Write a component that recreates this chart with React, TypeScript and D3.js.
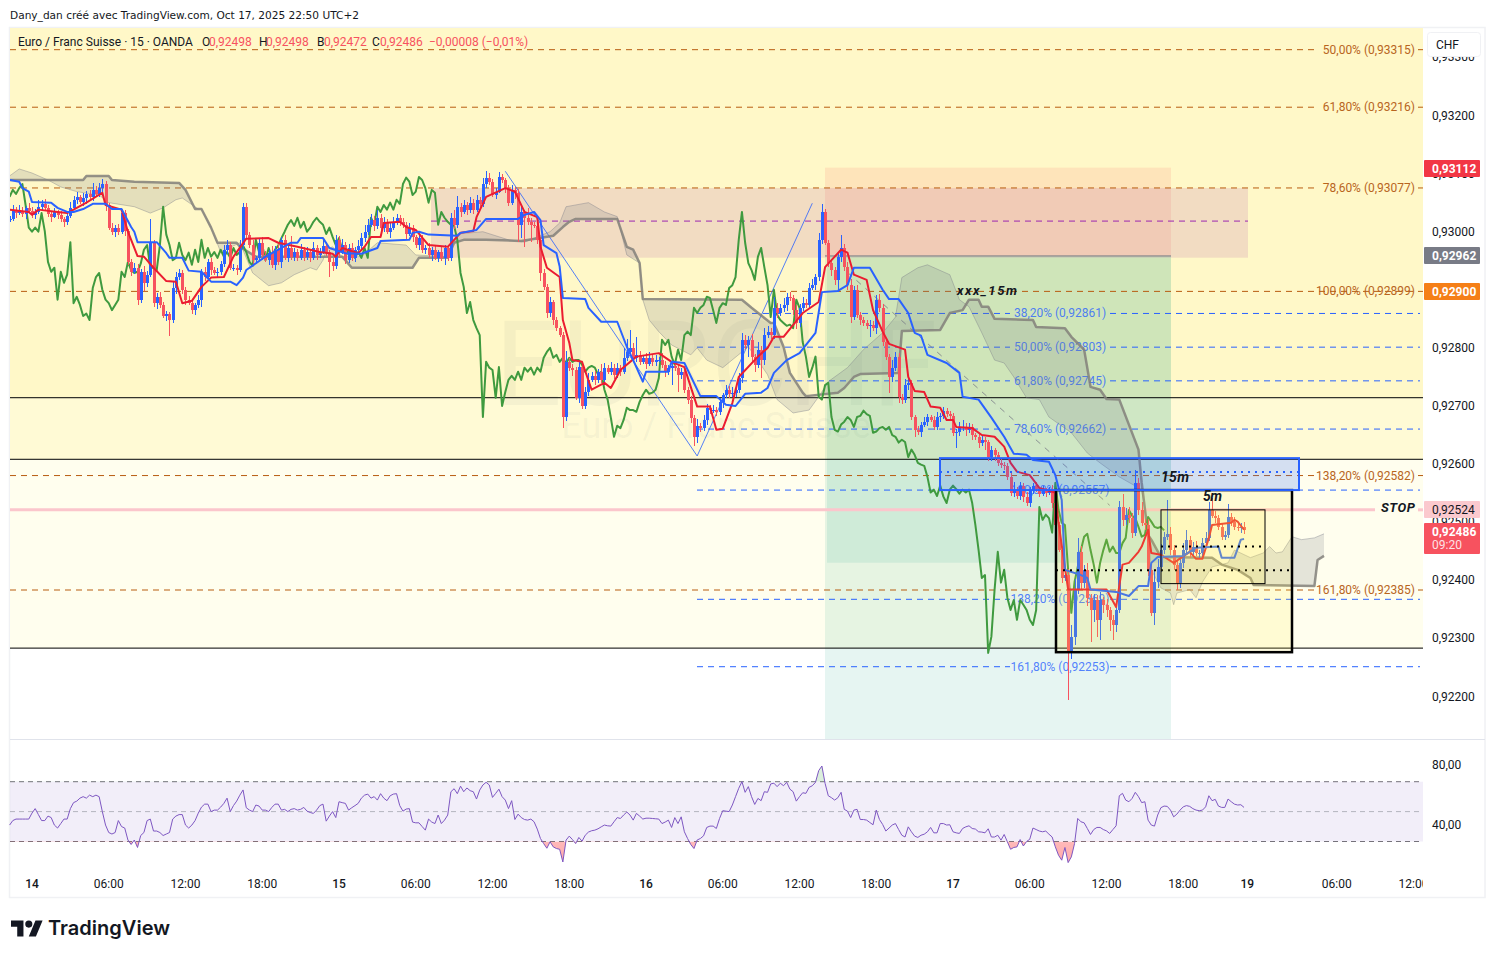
import React from "react";
import * as d3 from "d3";

// ---- prices are in points (1 point = 0.00001 CHF) ----
const closes = [
93022,93038,93032,93036,93031,93041,93036,93029,93034,93043,
93048,93041,93031,93026,93034,93029,93022,93017,93027,93041,
93055,93060,93051,93058,93065,93060,93072,93065,93075,93082,
93046,93007,93000,93007,93000,93032,93001,92948,92931,92938,
92883,92931,92912,92926,92982,92877,92888,92874,92855,92859,
92848,92903,92922,92929,92900,92883,92877,92865,92874,92883,
92931,92922,92948,92934,92929,92931,92945,92969,92977,92938,
92938,92934,92977,93043,92995,92977,92951,92955,92981,92960,
92951,92964,92943,92969,92948,92986,92955,92972,92957,92965,
92955,92969,92957,92965,92955,92972,92960,92965,92976,92965,
92948,92941,92986,92965,92977,92951,92972,92955,92969,92976,
92989,93000,93012,93020,93010,93024,93007,93017,93000,93007,
93017,93024,93017,93012,92996,93007,92991,92977,92989,92969,
92972,92960,92969,92955,92965,92955,92972,92955,93024,93012,
93043,93034,93046,93038,93050,93038,93055,93048,93082,93093,
93086,93063,93069,93094,93089,93075,93050,93072,93067,93012,
93034,93024,93017,93012,93010,92986,92929,92905,92860,92879,
92848,92834,92822,92681,92776,92766,92762,92714,92767,92700,
92724,92745,92752,92745,92759,92745,92766,92759,92766,92754,
92766,92759,92783,92793,92800,92783,92788,92776,92783,92773,
92783,92776,92779,92779,92771,92759,92766,92769,92766,92754,
92759,92728,92711,92680,92647,92666,92662,92676,92697,92693,
92693,92690,92707,92719,92728,92721,92723,92728,92748,92814,
92805,92814,92785,92771,92797,92779,92822,92828,92822,92869,
92860,92869,92874,92888,92886,92865,92843,92869,92877,92874,
92903,92908,92922,92986,93034,92981,92946,92934,92917,92957,
92972,92939,92908,92853,92900,92857,92848,92843,92838,92840,
92834,92883,92869,92810,92785,92750,92766,92785,92716,92711,
92736,92740,92681,92659,92656,92668,92673,92681,92676,92664,
92681,92683,92692,92686,92683,92654,92656,92662,92664,92659,
92664,92650,92647,92637,92642,92638,92612,92625,92616,92602,
92599,92597,92578,92551,92556,92545,92563,92544,92533,92556,
92563,92557,92549,92556,92551,92556,92533,92495,92452,92404,
92409,92275,92303,92384,92449,92396,92418,92370,92349,92366,
92332,92366,92358,92349,92332,92323,92349,92526,92504,92513,
92507,92482,92568,92521,92499,92495,92418,92344,92397,92423,
92452,92475,92480,92452,92427,92396,92430,92452,92470,92449,
92458,92447,92447,92464,92473,92521,92511,92507,92492,92475,
92478,92509,92501,92492,92490,92492,92486];

const upperWicks = [
5,8,4,10,6,3,9,7,5,12,6,8,5,3,7,4,6,3,8,10,
6,9,4,8,5,7,12,6,9,8,6,4,8,5,7,4,6,3,5,8,
6,5,10,6,40,4,6,8,5,4,3,10,8,6,5,4,7,6,4,8,
4,8,5,7,5,6,4,8,9,5,6,5,8,7,6,5,8,4,6,10,
7,5,12,6,9,5,8,6,20,7,6,9,5,8,6,10,5,7,9,6,
4,7,8,6,10,5,7,8,5,9,8,12,9,10,7,14,6,8,5,10,
9,7,5,6,4,8,5,4,7,6,5,8,4,6,3,10,5,4,8,14,
18,6,9,5,10,6,8,5,10,12,8,5,6,9,5,4,6,8,5,6,
8,4,16,6,5,3,4,6,5,8,4,6,3,5,18,7,6,5,10,4,
8,12,6,9,5,14,8,5,10,6,8,5,16,22,30,8,30,7,5,8,
10,6,8,5,12,6,4,9,7,5,6,8,4,6,5,12,4,8,6,5,
8,5,6,4,8,6,10,5,8,12,8,6,10,5,14,6,12,10,6,18,
8,6,12,6,9,5,8,6,10,8,8,10,6,12,14,5,4,6,5,8,
22,6,8,10,6,8,4,6,5,8,6,8,9,6,5,4,14,8,6,4,
10,6,5,4,6,4,8,5,4,6,8,5,7,4,6,5,4,10,12,6,
6,5,4,6,8,5,4,6,3,5,8,4,5,6,14,5,6,4,8,5,
5,6,4,6,3,5,8,6,5,4,6,10,20,18,24,10,8,12,6,10,
8,14,6,10,5,8,6,10,22,12,14,8,22,8,14,6,10,8,20,14,
10,8,58,12,8,6,10,12,16,6,8,10,6,8,10,14,21,8,6,5,
6,22,6,8,5,6,8];

const lowerWicks = [
5,3,8,4,6,10,4,5,7,3,8,4,6,10,3,8,5,9,6,4,
4,7,3,6,10,4,7,3,5,8,10,4,5,9,6,4,8,5,8,4,
10,6,14,8,4,6,10,5,4,8,27,6,10,5,7,10,4,6,8,5,
12,6,5,9,4,7,5,6,8,4,5,8,4,6,8,5,10,6,4,8,
4,8,5,9,6,10,4,7,5,8,6,4,8,5,7,4,9,5,4,6,
26,8,5,10,4,7,5,6,8,4,5,7,6,4,9,5,6,8,4,10,
4,6,8,5,9,4,8,5,9,6,7,5,10,4,8,6,12,5,6,8,
5,8,4,9,5,7,4,8,5,6,5,4,7,3,6,8,5,4,10,30,
22,50,6,30,4,8,14,5,8,6,8,5,4,19,6,5,10,4,8,6,
5,7,4,8,6,5,7,4,6,8,5,8,4,6,7,5,8,6,4,9,
5,7,8,4,6,9,5,30,6,30,8,5,7,9,16,10,6,5,8,6,
5,8,6,10,5,7,6,8,5,8,7,20,10,12,6,30,8,5,7,6,
8,5,7,10,6,8,10,7,5,6,5,4,8,6,7,4,6,10,8,20,
10,6,8,10,5,6,8,5,6,20,5,10,8,6,6,27,8,5,10,8,
6,8,5,12,6,10,5,7,4,6,5,8,6,5,8,6,27,8,5,10,
6,8,5,10,6,14,7,6,10,5,6,8,5,6,8,5,7,10,5,6,
8,5,6,4,7,5,8,6,4,8,6,81,10,15,8,12,10,14,55,20,
30,35,14,12,20,25,12,6,10,8,8,10,5,8,6,8,10,6,21,10,
8,6,5,8,10,12,10,8,6,10,8,5,10,7,5,6,4,8,5,6,
6,5,8,6,5,8,6];

const rsiValues = [
41,44,45,45,45,45,45,49,52,48,44,44,47,46,41,39,42,45,45,52,
56,57,59,60,59,61,60,61,60,50,41,36,35,36,44,40,39,31,28,31,
26,34,36,44,45,37,37,36,34,35,36,45,47,48,48,41,39,41,44,49,
53,55,55,50,51,51,53,55.5,59,50,54,57,61,64.5,52.6,51,50,54.4,53.7,51,
51,50,52.8,55,55,51,51.5,50,51.5,52,51,51.5,52.8,50.3,49.4,48.8,51,54,55,43.6,
47,50,46,56.6,56,55.5,51,52.6,54,55.5,59,61,61.7,59,60,57.7,62,59,57.3,60.6,
61.7,62,54,50.3,51.7,52,43,42.5,42.5,40,37.6,45,43,42,47.7,42,44.3,47.7,63.3,65.3,
62,67,63.3,65.8,64,63.3,58.4,64.4,67.8,69.6,67.8,59.5,62.2,65,60,57.7,52,57.3,44.7,48.3,
46,44.7,44.3,45,43.2,38.3,32,28.6,25.5,29.8,26.4,25.3,24.8,16.3,30.9,33.6,31.3,28.6,32.7,30.2,
34.2,36.3,37.2,37.6,38.5,39.8,41,40.5,40.3,43.2,46,45.4,47.7,49.7,47.7,44.3,48.8,47,45,45.6,
45.6,45.4,45.2,45,42,43,44.3,39.4,46,42,46.5,36.5,32,28,25.3,31,32,33.8,39.4,40.3,
40.3,38.7,45.4,50.6,50.3,50,54.4,60,65.6,70,62.9,66.7,60,54.8,58.8,57.3,63.3,62.9,68.5,69,
66.7,69,67.3,69.6,65,63.3,57,60,62.6,62.2,66.2,67.3,69.6,77.4,80.5,68.9,60.6,59.3,57.7,59.3,
62.9,51.5,50.3,46,51,51.5,44.7,44.7,44.3,42.7,41.2,51,44.7,41.4,37,39,41,42,38,34.2,
33,39.8,36.5,33.6,32.7,34.2,34.9,36.5,39.4,35.8,35.8,42,42,41,41.2,36.5,35.8,35.4,38.7,39.8,
40.5,38.7,38.3,36.5,36.3,35.8,38.5,33,33,34.2,30.9,34.7,29.8,24.8,26,26.4,31.3,27,30,31.5,
39,38,37,36.5,37,34.9,33,26.4,20.8,17.5,26,15.9,19.7,28.6,45.4,43.2,42.5,38.7,34.7,38,
39.4,39.4,38,37.1,35.4,38,40.5,60.6,62.2,57.7,56.6,58.8,62.9,60,56,56.6,44.3,41,40.3,47.7,
52.6,53.7,53.5,51,46.5,48.3,51,53.2,54,53.5,52,51,50.6,51,53.2,60.6,57.3,58.2,53.7,52.8,
52.8,58.4,56.6,55,54.4,54.6,52.8];

// [bar index, price in points]
const kijun: [number, number][] = [[0,93089],[3,93086],[4,93075],[6,93069],[7,93051],[13,93050],[15,93041],[18,93034],[20,93034],[23,93039],[26,93048],[30,93048],[32,93039],[35,93039],[38,93008],[39,93000],[40,92982],[46,92982],[49,92963],[50,92955],[54,92955],[56,92933],[60,92931],[63,92914],[69,92914],[71,92908],[73,92921],[74,92934],[80,92957],[88,92981],[90,92981],[91,92989],[98,92989],[100,92972],[105,92963],[110,92962],[115,92972],[116,92984],[125,92986],[126,92998],[128,93000],[131,92995],[140,92993],[141,92998],[146,93003],[149,93022],[159,93022],[161,93029],[164,93034],[166,93020],[167,92977],[171,92963],[172,92940],[173,92886],[180,92884],[181,92869],[185,92845],[190,92845],[193,92802],[195,92779],[198,92742],[199,92759],[206,92759],[207,92776],[211,92774],[216,92717],[221,92717],[224,92702],[227,92700],[230,92721],[235,92723],[237,92731],[239,92757],[243,92779],[247,92791],[252,92826],[254,92896],[259,92898],[262,92908],[264,92938],[269,92938],[273,92900],[275,92884],[278,92884],[281,92860],[283,92826],[285,92821],[287,92788],[293,92774],[297,92757],[298,92716],[303,92711],[307,92680],[311,92647],[314,92618],[318,92616],[320,92607],[325,92604],[327,92581],[329,92538],[330,92418],[335,92409],[337,92404],[338,92384],[346,92380],[350,92373],[353,92390],[356,92390],[357,92430],[359,92440],[367,92442],[371,92456],[378,92458],[379,92439],[383,92439],[385,92470],[386,92471]];

const tenkan: [number, number][] = [[0,93038],[6,93034],[7,93029],[9,93038],[15,93034],[18,93032],[20,93038],[24,93050],[29,93067],[30,93046],[35,93038],[37,93000],[40,92958],[42,92957],[45,92938],[49,92915],[52,92914],[54,92877],[57,92881],[60,92905],[63,92921],[67,92922],[70,92957],[74,92988],[81,92989],[84,92981],[90,92974],[97,92965],[101,92962],[102,92957],[104,92972],[109,92963],[111,92974],[113,92991],[116,92991],[117,93015],[122,93017],[124,93008],[127,93003],[131,92977],[137,92974],[139,92986],[141,92998],[145,93001],[146,93025],[149,93060],[155,93075],[158,93069],[161,93034],[165,93025],[166,92974],[168,92938],[172,92922],[173,92848],[175,92809],[176,92779],[179,92776],[182,92728],[186,92740],[188,92731],[191,92762],[196,92785],[203,92791],[207,92776],[211,92767],[215,92699],[219,92699],[221,92659],[223,92661],[226,92705],[228,92750],[234,92785],[237,92800],[239,92819],[242,92819],[248,92860],[253,92879],[255,92939],[257,92951],[260,92969],[262,92964],[264,92926],[268,92917],[270,92865],[273,92828],[275,92807],[280,92797],[281,92750],[283,92726],[286,92724],[288,92699],[291,92697],[293,92676],[295,92676],[296,92664],[301,92662],[304,92650],[308,92647],[311,92630],[313,92602],[315,92587],[319,92581],[322,92559],[327,92551],[328,92499],[331,92384],[343,92384],[346,92354],[348,92427],[350,92430],[353,92449],[354,92458],[356,92487],[357,92447],[360,92444],[364,92430],[369,92449],[371,92437],[373,92437],[375,92473],[376,92495],[382,92499],[383,92504],[384,92501],[386,92487]];

const senkouB: [number, number][] = [[0,93089],[23,93089],[24,93096],[31,93096],[32,93089],[39,93086],[53,93084],[55,93072],[58,93039],[60,93039],[63,93007],[65,92981],[71,92981],[72,92974],[77,92957],[104,92957],[107,92938],[126,92938],[128,92955],[137,92955],[139,92981],[142,92986],[149,92986],[160,92984],[170,92993],[173,93008],[175,93017],[177,93022],[190,93022],[193,92974],[195,92969],[197,92946],[198,92884],[229,92883],[232,92869],[238,92843],[239,92843],[242,92802],[244,92757],[248,92723],[249,92717],[259,92723],[261,92731],[264,92750],[266,92755],[278,92757],[279,92829],[291,92831],[294,92860],[298,92865],[300,92883],[303,92883],[304,92871],[306,92871],[308,92850],[320,92848],[321,92836],[330,92834],[332,92819],[336,92797],[338,92733],[341,92728],[343,92712],[347,92711],[353,92625],[354,92568],[356,92478],[357,92470],[360,92440],[376,92439],[379,92427],[384,92418],[388,92404],[389,92392],[408,92390],[409,92435],[411,92442]];

const senkouA: [number, number][] = [[0,93096],[3,93108],[7,93101],[12,93089],[16,93077],[21,93069],[28,93063],[31,93050],[39,93043],[44,93032],[48,93041],[52,93055],[54,93058],[59,93039],[60,93039],[63,93007],[66,92965],[72,92981],[76,92929],[81,92907],[85,92912],[89,92926],[94,92938],[96,92934],[98,92951],[99,92969],[101,92974],[104,92957],[110,92957],[115,92981],[124,92977],[127,92960],[137,92957],[139,92981],[140,92996],[148,93000],[156,92986],[161,92982],[169,93000],[172,93015],[174,93043],[181,93050],[186,93034],[190,93026],[193,92960],[197,92946],[198,92883],[200,92848],[203,92828],[207,92805],[213,92788],[215,92800],[218,92779],[223,92766],[231,92802],[237,92754],[240,92711],[245,92688],[250,92693],[253,92716],[256,92742],[262,92766],[267,92797],[273,92826],[277,92853],[279,92921],[284,92938],[287,92943],[294,92926],[297,92883],[300,92871],[304,92826],[308,92779],[311,92774],[314,92750],[318,92714],[322,92711],[325,92681],[332,92654],[337,92619],[341,92602],[347,92578],[354,92556],[356,92487],[357,92418],[360,92387],[363,92378],[364,92358],[365,92378],[369,92384],[371,92370],[373,92397],[376,92423],[381,92430],[383,92452],[388,92439],[392,92447],[394,92458],[396,92447],[398,92449],[401,92475],[404,92470],[408,92473],[411,92480]];

const chikouShift = 25;
const zigzag: [number, number][] = [[155, 93104], [215, 92614], [251, 93049]];
const trendLine: [number, number][] = [[262, 92930], [344, 92529]];

const priceTicks = [93300, 93200, 93100, 93000, 92800, 92700, 92600, 92500, 92400, 92300, 92200];
const timeTicks: [number, string, boolean][] = [[7,"14",true],[31,"06:00",false],[55,"12:00",false],[79,"18:00",false],[103,"15",true],[127,"06:00",false],[151,"12:00",false],[175,"18:00",false],[199,"16",true],[223,"06:00",false],[247,"12:00",false],[271,"18:00",false],[295,"17",true],[319,"06:00",false],[343,"12:00",false],[367,"18:00",false],[387,"19",true],[415,"06:00",false],[439,"12:00",false]];

const orangeLevels: [number, string][] = [[93315,"50,00% (0,93315)"],[93216,"61,80% (0,93216)"],[93077,"78,60% (0,93077)"],[92582,"138,20% (0,92582)"],[92385,"161,80% (0,92385)"]];
const blueLevels: [number, string][] = [[92861,"38,20% (0,92861)"],[92803,"50,00% (0,92803)"],[92745,"61,80% (0,92745)"],[92662,"78,60% (0,92662)"],[92557,"100,00% (0,92557)"],[92369,"138,20% (0,92369)"],[92253,"161,80% (0,92253)"]];
const blackLevels = [92716, 92610, 92285];
const purpleLevel = 93020;
const stopLevel = 92523;

const headerParts: [string, number, string][] = [
  ["Euro / Franc Suisse · 15 · OANDA", 18, "#131722"],
  ["O", 202, "#131722"], ["0,92498", 209, "#f7525f"],
  ["H", 259, "#131722"], ["0,92498", 266, "#f7525f"],
  ["B", 317, "#131722"], ["0,92472", 324, "#f7525f"],
  ["C", 372, "#131722"], ["0,92486", 380, "#f7525f"],
  ["−0,00008 (−0,01%)", 429, "#f7525f"],
];

const FONT = "Roboto, sans-serif";
const PL = 10, PR = 1423, PT = 28, PB = 739;

export default function App() {
  const x = d3.scaleLinear().domain([0, 386]).range([9.6, 9.6 + 386 * 3.198]);
  // price scale of the axis; traced series were read against the tick-label centres, one pixel above it
  const y = d3.scaleLinear().domain([93200, 92200]).range([116.5, 697.5]);
  const yS = d3.scaleLinear().domain([93200, 92200]).range([115.5, 696.5]);
  const r = d3.scaleLinear().domain([70, 30]).range([781.7, 841.5]);

  const line = d3.line<[number, number]>().x((d) => x(d[0])).y((d) => yS(d[1])).curve(d3.curveLinear);
  const rsiLine = d3.line<number>().x((_, i) => x(i)).y((d) => r(d));
  const rsiArea30 = d3.area<number>().x((_, i) => x(i)).y0(r(30)).y1((d) => r(d));
  const rsiArea70 = d3.area<number>().x((_, i) => x(i)).y0(r(70)).y1((d) => r(d));

  const chikou: [number, number][] = closes.slice(chikouShift).map((c, i) => [i, c]);
  const cloudPath = (line(senkouA) || "") + "L" + (line([...senkouB].reverse()) || "").slice(1) + "Z";

  const posL = 825, posR = 1171;

  const fibLabel = (text: string, p: number, xEnd: number, col: string, key: string, anchor = "end", op = 1) => (
    <text key={key} x={xEnd} y={y(p) + 4} fontSize={12} fill={col} fillOpacity={op} textAnchor={anchor}>{text}</text>
  );

  return (
    <svg width={1495} height={958} style={{ position: "absolute", left: 0, top: 0, fontFamily: FONT }}>
      <defs>
        <clipPath id="pane"><rect x={PL} y={PT} width={PR - PL} height={PB - PT} /></clipPath>
        <clipPath id="axisClip"><rect x={PL} y={875} width={PR - PL} height={20} /></clipPath>
        <clipPath id="below30"><rect x={PL} y={r(30)} width={PR - PL} height={40} /></clipPath>
        <clipPath id="above70"><rect x={PL} y={r(70) - 40} width={PR - PL} height={40} /></clipPath>
        <linearGradient id="redGrad" x1="0" y1="0" x2="0" y2="1">
          <stop offset="0" stopColor="#ff5252" stopOpacity={0.05} />
          <stop offset="1" stopColor="#ff5252" stopOpacity={0.5} />
        </linearGradient>
      </defs>
      <rect x={0} y={0} width={1495} height={958} fill="#fff" />
      <rect x={9.5} y={27.5} width={1475.5} height={870} fill="#fff" stroke="#f0f1f4" strokeWidth={1.5} />

      <text x={10} y={19} fontSize={11} fill="#131722" fontFamily="'DejaVu Sans', sans-serif" textLength={349} lengthAdjust="spacingAndGlyphs">Dany_dan créé avec TradingView.com, Oct 17, 2025 22:50 UTC+2</text>

      <g clipPath="url(#pane)">
        <rect x={PL} y={PT} width={PR - PL} height={y(blackLevels[0]) - PT} fill="#fff8c8" />
        <rect x={PL} y={y(blackLevels[0])} width={PR - PL} height={y(blackLevels[1]) - y(blackLevels[0])} fill="#fffad5" />
        <rect x={PL} y={y(blackLevels[1])} width={PR - PL} height={y(blackLevels[2]) - y(blackLevels[1])} fill="#fffeee" />

        <text x={716} y={405} fontSize={118} textAnchor="middle" fill="#787b86" fillOpacity={0.07}>EURCHF</text>
        <text x={716} y={438} fontSize={36} textAnchor="middle" fill="#787b86" fillOpacity={0.07}>Euro / Franc Suisse</text>

        {/* position tool */}
        <rect x={posL} y={y(93112)} width={posR - posL} height={y(92960) - y(93112)} fill="#f23645" fillOpacity={0.1} />
        <rect x={posL} y={y(92960)} width={posR - posL} height={PB - y(92960)} fill="#089981" fillOpacity={0.1} />
        <rect x={posL + 2} y={y(92960)} width={posR - posL - 2} height={y(92432) - y(92960)} fill="#089981" fillOpacity={0.1} />
        <rect x={431} y={y(93077)} width={1248 - 431} height={y(92957) - y(93077)} fill="#a83da0" fillOpacity={0.15} />

        {/* horizontal levels */}
        {blackLevels.map((p) => (
          <line key={p} x1={PL} x2={PR} y1={y(p)} y2={y(p)} stroke="#000" strokeWidth={1} />
        ))}
        {orangeLevels.map(([p]) => (
          <line key={p} x1={PL} x2={1318} y1={y(p)} y2={y(p)} stroke="#b85c10" strokeWidth={1} strokeDasharray="6 5" />
        ))}
        {orangeLevels.map(([p]) => (
          <line key={"e" + p} x1={1418} x2={PR} y1={y(p)} y2={y(p)} stroke="#b85c10" strokeWidth={1} />
        ))}
        <line x1={PL} x2={PR} y1={y(92899)} y2={y(92899)} stroke="#b85c10" strokeWidth={1} strokeDasharray="6 5" />
        <line x1={431} x2={1248} y1={y(purpleLevel)} y2={y(purpleLevel)} stroke="#9c27b0" strokeWidth={1} strokeDasharray="6 5" />
        <line x1={posL} x2={posR} y1={y(92960)} y2={y(92960)} stroke="#787b86" strokeWidth={1} />

        {/* blue fib levels */}
        {blueLevels.map(([p]) => (
          <g key={p}>
            <line x1={697} x2={1010} y1={y(p)} y2={y(p)} stroke="#2962ff" strokeWidth={1} strokeDasharray="6 5" />
            <line x1={1110} x2={1420} y1={y(p)} y2={y(p)} stroke="#2962ff" strokeWidth={1} strokeDasharray="6 5" />
          </g>
        ))}
        {blueLevels.map(([p, t]) => fibLabel(t, p, 1060, "#2962ff", "bl" + p, "middle", 0.8))}

        <line x1={PL} x2={1375} y1={y(stopLevel)} y2={y(stopLevel)} stroke="#fbc6cc" strokeWidth={3} />
        <line x1={1418} x2={PR} y1={y(stopLevel)} y2={y(stopLevel)} stroke="#fbc6cc" strokeWidth={3} />

        {/* zigzag + trend */}
        <path d={line(zigzag) || ""} fill="none" stroke="#2962ff" strokeOpacity={0.8} strokeWidth={1} />
        <path d={line(trendLine) || ""} fill="none" stroke="#787b86" strokeOpacity={0.8} strokeWidth={1} strokeDasharray="6 6" />

        {/* cloud */}
        <path d={cloudPath} fill="#787b86" fillOpacity={0.2} stroke="none" />
        <path d={line(senkouA) || ""} fill="none" stroke="#787b86" strokeOpacity={0.4} strokeWidth={1} />
        <path d={line(senkouB) || ""} fill="none" stroke="#82807a" strokeOpacity={0.85} strokeWidth={2.5} strokeLinejoin="round" />

        {/* chikou */}
        <path d={line(chikou) || ""} fill="none" stroke="#3f9a3f" strokeWidth={2} strokeLinejoin="round" />

        {/* candles */}
        <g shapeRendering="crispEdges">
          {closes.map((c, i) => {
            const o = i === 0 ? c : closes[i - 1];
            const up = c >= o;
            const col = up ? "#2962ff" : "#f7525f";
            const hi = Math.max(o, c) + upperWicks[i];
            const lo = Math.min(o, c) - lowerWicks[i];
            const top = yS(Math.max(o, c));
            const bot = yS(Math.min(o, c));
            const cx = Math.round(x(i));
            return (
              <g key={i}>
                <rect x={cx} y={yS(hi)} width={1} height={yS(lo) - yS(hi)} fill={col} />
                <rect x={cx - 1} y={top} width={3} height={Math.max(bot - top, 1)} fill={col} />
              </g>
            );
          })}
        </g>

        <path d={line(tenkan) || ""} fill="none" stroke="#eb1c30" strokeWidth={2} strokeLinejoin="round" />
        <path d={line(kijun) || ""} fill="none" stroke="#2962ff" strokeWidth={2} strokeLinejoin="round" />

        {/* boxes */}
        <rect x={1056} y={y(92557)} width={236} height={y(92278) - y(92557)} fill="#ffeb3b" fillOpacity={0.15} stroke="#000" strokeWidth={2.5} />
        <line x1={1056} x2={1292} y1={y(92419)} y2={y(92419)} stroke="#000" strokeWidth={2} strokeDasharray="2 5" />
        <rect x={1161} y={y(92523)} width={104} height={y(92396) - y(92523)} fill="#ffeb3b" fillOpacity={0.15} stroke="#000" strokeWidth={1} />
        <line x1={1161} x2={1265} y1={y(92460)} y2={y(92460)} stroke="#000" strokeWidth={2} strokeDasharray="2 5" />
        <rect x={940} y={y(92612)} width={359} height={y(92557) - y(92612)} fill="#2962ff" fillOpacity={0.2} stroke="#2962ff" strokeWidth={2} />
        <line x1={940} x2={1299} y1={y(92588)} y2={y(92588)} stroke="#2962ff" strokeWidth={2} strokeDasharray="2 5" />

        {/* fib labels */}
        {orangeLevels.map(([p, t]) => fibLabel(t, p, 1415, "#b8651e", "ol" + p))}
        {fibLabel("100,00% (0,92899)", 92899, 1415, "#b8651e", "ol100")}

        <text x={957} y={295} fontSize={13} fontWeight={700} fontStyle="italic" fill="#131722" textLength={60}>xxx_15m</text>
        <text x={1161} y={482} fontSize={14} fontWeight={700} fontStyle="italic" fill="#131722" textLength={28}>15m</text>
        <text x={1203} y={501} fontSize={14} fontWeight={700} fontStyle="italic" fill="#131722" textLength={19}>5m</text>
        <text x={1415} y={512} fontSize={13} fontWeight={700} fontStyle="italic" fill="#131722" textAnchor="end" textLength={34}>STOP</text>

        {/* legend */}
        {headerParts.map(([t, px, col], i) => (
          <text key={i} x={px} y={46} fontSize={12} fill={col}>{t}</text>
        ))}
      </g>

      {/* RSI pane */}
      <line x1={PL} x2={1485} y1={739.5} y2={739.5} stroke="#e0e3eb" strokeWidth={1} />
      <rect x={PL} y={r(70)} width={PR - PL} height={r(30) - r(70)} fill="#7e57c2" fillOpacity={0.1} />
      {[70, 50, 30].map((v) => (
        <line key={v} x1={PL} x2={PR} y1={r(v)} y2={r(v)} stroke={v === 50 ? "#787b86" : "#4a4550"} strokeOpacity={v === 50 ? 0.5 : 0.75} strokeWidth={1} strokeDasharray="5 4" />
      ))}
      <g clipPath="url(#below30)"><path d={rsiArea30(rsiValues) || ""} fill="url(#redGrad)" /></g>
      <g clipPath="url(#above70)"><path d={rsiArea70(rsiValues) || ""} fill="#4caf50" fillOpacity={0.2} /></g>
      <path d={rsiLine(rsiValues) || ""} fill="none" stroke="#7e57c2" strokeWidth={1} />
      {[80, 40].map((v) => (
        <text key={v} x={1432} y={r(v) + 2} fontSize={12} fill="#131722">{v},00</text>
      ))}

      {/* price axis */}
      {priceTicks.map((p) => (
        <text key={p} x={1432} y={y(p) + 3} fontSize={12} fill="#131722">{"0," + p}</text>
      ))}
      <rect x={1427.5} y={32.5} width={53} height={24} rx={3} fill="#fff" stroke="#f0f1f4" />
      <text x={1436} y={49} fontSize={12} fill="#131722">CHF</text>

      <rect x={1424} y={160} width={56} height={17} rx={1} fill="#f23645" />
      <text x={1432} y={172.5} fontSize={12} fontWeight={700} fill="#fff">0,93112</text>
      <rect x={1424} y={247} width={56} height={17} rx={1} fill="#787b86" />
      <text x={1432} y={259.5} fontSize={12} fontWeight={700} fill="#fff">0,92962</text>
      <rect x={1424} y={283} width={56} height={17} rx={1} fill="#f57f17" />
      <text x={1432} y={295.5} fontSize={12} fontWeight={700} fill="#fff">0,92900</text>
      <rect x={1424} y={501} width={56} height={17} rx={1} fill="#fbc9ce" />
      <text x={1432} y={513.5} fontSize={12} fill="#131722">0,92524</text>
      <rect x={1424} y={523} width={56} height={31} rx={1} fill="#f7525f" />
      <text x={1432} y={535.5} fontSize={12} fontWeight={700} fill="#fff">0,92486</text>
      <text x={1432} y={549} fontSize={12} fill="#fff" fillOpacity={0.85}>09:20</text>

      {/* time axis */}
      <g clipPath="url(#axisClip)">
        {timeTicks.map(([b, t, bold]) => (
          <text key={b} x={x(b)} y={888} fontSize={12} textAnchor="middle" fontWeight={bold ? 500 : 400} fill="#131722">{t}</text>
        ))}
      </g>

      {/* logo */}
      <g transform="translate(11,917) scale(0.89)" fill="#131722">
        <path d="M14 22H7V11H0V4h14v18zM28 22h-8l7.5-18h8L28 22z" />
        <circle cx={20} cy={8} r={4} />
      </g>
      <text x={48} y={935} fontSize={20} fontWeight={600} fill="#131722" fontFamily="Inter, sans-serif" textLength={122} lengthAdjust="spacingAndGlyphs">TradingView</text>
    </svg>
  );
}
